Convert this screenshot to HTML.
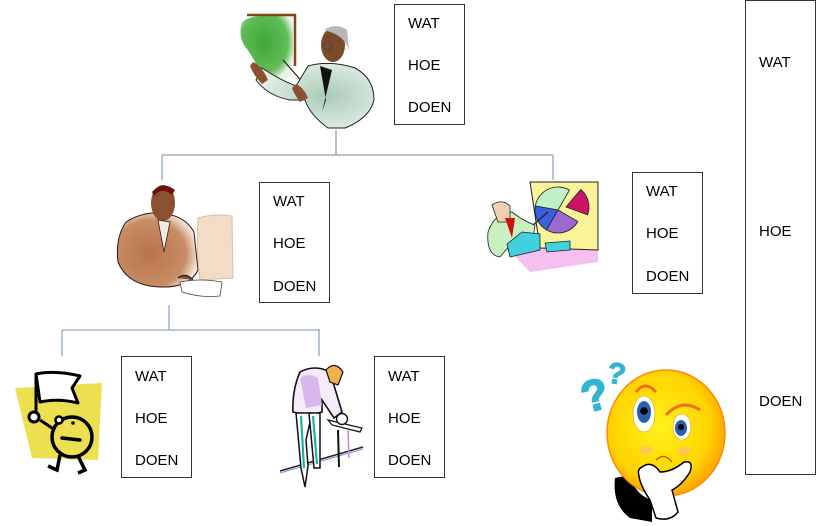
<!DOCTYPE html>
<html><head><meta charset="utf-8"><style>
html,body{margin:0;padding:0;background:#fff;}
body{width:818px;height:526px;position:relative;overflow:hidden;font-family:"Liberation Sans",sans-serif;}
svg{position:absolute;left:0;top:0;}
.t{font-family:"Liberation Sans",sans-serif;font-size:15px;fill:#000;}
</style></head><body>
<svg width="818" height="526" viewBox="0 0 818 526" xmlns="http://www.w3.org/2000/svg">
<defs>
<radialGradient id="gg" cx="0.45" cy="0.4" r="0.6"><stop offset="0" stop-color="#3fa83a"/><stop offset="0.75" stop-color="#62bc58"/><stop offset="1" stop-color="#e8f5e4"/></radialGradient>
<radialGradient id="sg" cx="0.6" cy="0.5" r="0.6"><stop offset="0" stop-color="#a9cab6"/><stop offset="1" stop-color="#e6f0ea"/></radialGradient>
<radialGradient id="bg" cx="0.4" cy="0.55" r="0.6"><stop offset="0" stop-color="#b8744a"/><stop offset="0.75" stop-color="#c88c64"/><stop offset="1" stop-color="#f4e4d8"/></radialGradient>
<radialGradient id="yg" cx="0.45" cy="0.45" r="0.6"><stop offset="0" stop-color="#fff21a"/><stop offset="0.7" stop-color="#ffd400"/><stop offset="1" stop-color="#ff9a00"/></radialGradient>
</defs>

<!-- connectors -->
<g stroke="#8fa8c4" stroke-width="1.3" fill="none">
<line x1="336" y1="130" x2="336" y2="155"/>
<line x1="162" y1="155" x2="553" y2="155" stroke="#a0a0a0"/>
<line x1="162" y1="155" x2="162" y2="180"/>
<line x1="553" y1="155" x2="553" y2="180"/>
<line x1="169" y1="305" x2="169" y2="330"/>
<line x1="62" y1="330" x2="320" y2="330"/>
<line x1="62" y1="330" x2="62" y2="356"/>
<line x1="319" y1="330" x2="319" y2="356"/>
</g>

<!-- boxes -->
<g fill="#fff" stroke="#333" stroke-width="1">
<rect x="394.5" y="4.5" width="70" height="120"/>
<rect x="259.5" y="182.5" width="70" height="120"/>
<rect x="632.5" y="172.5" width="70" height="121"/>
<rect x="121.5" y="356.5" width="70" height="121"/>
<rect x="374.5" y="356.5" width="70" height="121"/>
<rect x="745.5" y="0.5" width="70" height="474"/>
</g>
<g class="t">
<text x="408" y="28" class="t">WAT</text><text x="408" y="70" class="t">HOE</text><text x="408" y="112" class="t">DOEN</text>
<text x="273" y="206" class="t">WAT</text><text x="273" y="248" class="t">HOE</text><text x="273" y="291" class="t">DOEN</text>
<text x="646" y="196" class="t">WAT</text><text x="646" y="238" class="t">HOE</text><text x="646" y="281" class="t">DOEN</text>
<text x="135" y="381" class="t">WAT</text><text x="135" y="423" class="t">HOE</text><text x="135" y="465" class="t">DOEN</text>
<text x="388" y="381" class="t">WAT</text><text x="388" y="423" class="t">HOE</text><text x="388" y="465" class="t">DOEN</text>
<text x="759" y="67" class="t">WAT</text><text x="759" y="236" class="t">HOE</text><text x="759" y="406" class="t">DOEN</text>
</g>

<!-- presenter top -->
<g>
<path d="M242 22 Q250 15 270 16 L293 16 L293 70 Q288 84 272 82 Q262 80 258 68 Q252 55 244 45 Q238 34 242 22Z" fill="url(#gg)"/>
<path d="M247 15 L295 15 L295 66" stroke="#7a4a1a" stroke-width="2.5" fill="none"/>
<line x1="283" y1="60" x2="305" y2="85" stroke="#222" stroke-width="1.2"/>
<path d="M308 66 Q330 60 355 68 Q374 78 374 100 Q370 118 345 128 L328 128 Q310 115 305 100 L290 100 Q268 96 256 80 L262 68 Q280 80 296 86 Z" fill="url(#sg)" stroke="#222" stroke-width="1"/>
<path d="M320 66 L326 100 L322 112 L332 70 Z" fill="#111"/>
<ellipse cx="333" cy="45" rx="12" ry="17" fill="#7a4a2a"/>
<path d="M324 30 Q336 22 347 30 L349 50 Q344 36 330 32Z" fill="#b8b8b8"/>
<circle cx="328" cy="46" r="4" fill="none" stroke="#444" stroke-width="0.8"/>
<path d="M253 62 Q262 66 268 80 L262 84 Q254 76 250 66Z" fill="#8a5030"/>
<path d="M296 84 Q304 88 308 98 L300 102 Q294 94 292 88Z" fill="#8a5030"/>
</g>

<!-- computer man -->
<g>
<path d="M126 222 Q145 210 165 214 Q185 216 194 232 L198 270 Q190 288 160 287 Q128 286 118 262 Q115 238 126 222Z" fill="url(#bg)" stroke="#2a1a10" stroke-width="1"/>
<ellipse cx="163" cy="203" rx="12" ry="18" fill="#8a5030"/>
<path d="M152 192 Q162 180 175 190 L172 195 Q162 186 154 196Z" fill="#6a1010"/>
<path d="M158 220 L164 252 L170 222Z" fill="#f4e8e0" stroke="#222" stroke-width="0.8"/>
<path d="M198 218 Q215 213 232 216 L233 278 L200 280 Q196 250 198 218Z" fill="#f2dcc6" stroke="#d8c0a8" stroke-width="1"/>
<path d="M180 282 Q200 278 222 282 L220 296 Q200 298 182 292Z" fill="#fff" stroke="#444" stroke-width="0.8"/>
<path d="M178 278 Q186 272 193 280" stroke="#222" stroke-width="1.2" fill="#8a5030"/>
</g>

<!-- pie chart guy -->
<g>
<path d="M507 248 L598 245 L598 262 L530 272 Z" fill="#f5c0f0"/>
<path d="M530 182 L598 182 L598 250 L540 248 Z" fill="#faf39a" stroke="#222" stroke-width="1"/>
<path d="M558 210 L535.3 206 A23 23 0 0 1 569.5 190.1 Z" fill="#bff0c8" stroke="#222" stroke-width="0.8"/>
<path d="M558 210 L546.5 229.9 A23 23 0 0 1 535.3 206 Z" fill="#3a60e0" stroke="#222" stroke-width="0.8"/>
<path d="M558 210 L577.9 221.5 A23 23 0 0 1 546.5 229.9 Z" fill="#9a6ad0" stroke="#222" stroke-width="0.8"/>
<path d="M566 207 L580.8 189.4 A23 23 0 0 1 587.6 214.9 Z" fill="#cc1466" stroke="#222" stroke-width="0.8"/>
<path d="M488 232 Q495 212 512 212 Q525 222 535 225 L533 240 L510 245 L500 257 Q486 255 488 232Z" fill="#c8f0c0" stroke="#222" stroke-width="0.8"/>
<path d="M492 205 Q502 198 510 206 L510 222 L498 222 Z" fill="#f0d0b0" stroke="#222" stroke-width="0.8"/>
<path d="M505 218 L512 238 L515 218Z" fill="#d01010"/>
<path d="M507 244 L522 232 L540 234 L540 250 L510 257Z" fill="#40d0e0" stroke="#222" stroke-width="0.8"/>
<path d="M545 243 L570 241 L570 250 L547 252Z" fill="#40d0e0" stroke="#222" stroke-width="0.8"/>
<line x1="533" y1="225" x2="548" y2="212" stroke="#222" stroke-width="1.2"/>
</g>

<!-- flag smiley -->
<g>
<path d="M15 388 L102 383 L98 460 L32 458 Z" fill="#ece050"/>
<path d="M36 374 Q55 370 80 376 L72 388 L78 403 Q58 398 40 402 Z" fill="#fff" stroke="#000" stroke-width="3" stroke-linejoin="round"/>
<line x1="36" y1="374" x2="36" y2="412" stroke="#000" stroke-width="3"/>
<circle cx="34" cy="417" r="5" fill="#fff" stroke="#000" stroke-width="3"/>
<circle cx="72" cy="437" r="20" fill="none" stroke="#000" stroke-width="3.5"/>
<line x1="40" y1="420" x2="55" y2="430" stroke="#000" stroke-width="3"/>
<circle cx="59" cy="420" r="3.5" fill="#fff" stroke="#000" stroke-width="2.5"/>
<circle cx="73" cy="423" r="1.8" fill="#000"/>
<line x1="62" y1="438" x2="80" y2="440" stroke="#000" stroke-width="3.5" stroke-linecap="round"/>
<path d="M60 455 L57 470 L48 466" stroke="#000" stroke-width="3.5" fill="none"/>
<path d="M78 456 L85 470 L78 473" stroke="#000" stroke-width="3.5" fill="none"/>
</g>

<!-- worker -->
<g>
<line x1="280" y1="471" x2="363" y2="447" stroke="#222" stroke-width="1.5"/>
<line x1="280" y1="473" x2="363" y2="449" stroke="#8090e0" stroke-width="1"/>
<path d="M300 372 Q315 364 330 372 L342 412 L334 418 L322 400 L322 412 Q308 416 293 412 Q292 390 300 372Z" fill="#f4ecfa" stroke="#111" stroke-width="1.6"/>
<path d="M300 378 Q308 372 318 378 L322 405 L306 408 Z" fill="#d8b8ec"/>
<path d="M296 413 L301 468 L305 487 L308 466 L306 440 L312 413Z" fill="#fff" stroke="#111" stroke-width="1.5"/>
<path d="M309 413 L314 468 L320 468 L320 413Z" fill="#fff" stroke="#111" stroke-width="1.5"/>
<line x1="301" y1="416" x2="304" y2="468" stroke="#20b0a0" stroke-width="2.2"/>
<line x1="313" y1="416" x2="317" y2="464" stroke="#20b0a0" stroke-width="2.2"/>
<path d="M326 370 Q335 360 343 372 L338 385 L330 382Z" fill="#f0b050" stroke="#111" stroke-width="1.2"/>
<path d="M328 420 L362 428 L360 432 L332 425Z" fill="#fff" stroke="#111" stroke-width="1.2"/>
<circle cx="342" cy="419" r="5.5" fill="#fff" stroke="#111" stroke-width="1.4"/>
<line x1="338" y1="430" x2="339" y2="467" stroke="#111" stroke-width="2"/>
<line x1="348" y1="430" x2="349" y2="458" stroke="#cc88cc" stroke-width="1.5"/>
</g>

<!-- thinking smiley -->
<g>
<path d="M615 478 Q612 505 630 518 L652 522 L652 500 Q635 495 630 475Z" fill="#000"/>
<ellipse cx="666" cy="433" rx="59" ry="63" fill="url(#yg)" stroke="#ff8a00" stroke-width="1.5"/>
<ellipse cx="644" cy="414" rx="11" ry="18" fill="#fff" stroke="#e0a000" stroke-width="0.6"/>
<ellipse cx="644" cy="412" rx="7" ry="11" fill="#2a5fb0"/>
<circle cx="644" cy="411" r="3.8" fill="#000"/>
<ellipse cx="682" cy="427" rx="9" ry="13" fill="#fff" stroke="#e0a000" stroke-width="0.6"/>
<ellipse cx="681" cy="428" rx="6" ry="8" fill="#2a5fb0"/>
<circle cx="681" cy="427" r="3" fill="#000"/>
<path d="M636 392 Q645 380 656 392" stroke="#f07010" stroke-width="3" fill="none"/>
<path d="M666 415 Q682 398 700 410" stroke="#f07010" stroke-width="3" fill="none"/>
<ellipse cx="646" cy="450" rx="7" ry="4" fill="#ffc060" opacity="0.8"/>
<ellipse cx="684" cy="451" rx="7" ry="4" fill="#ffc060" opacity="0.8"/>
<path d="M656 460 Q664 452 672 462" stroke="#d06010" stroke-width="1.5" fill="none"/>
<path d="M642 467 Q652 460 660 472 Q672 472 684 462 Q694 460 690 472 Q682 485 672 490 L678 512 Q670 522 656 518 L650 500 Q640 485 639 476 Q637 469 642 467Z" fill="#fff" stroke="#000" stroke-width="1.5"/>
<text x="580" y="410" font-family="Liberation Sans, sans-serif" font-weight="bold" font-size="44" fill="#2fb5d0" stroke="#2fb5d0" stroke-width="1.5" transform="rotate(-15 595 390)">?</text>
<text x="608" y="384" font-family="Liberation Sans, sans-serif" font-weight="bold" font-size="30" fill="#2fb5d0" stroke="#2fb5d0" stroke-width="1" transform="rotate(10 618 370)">?</text>
</g>
</svg>
</body></html>
